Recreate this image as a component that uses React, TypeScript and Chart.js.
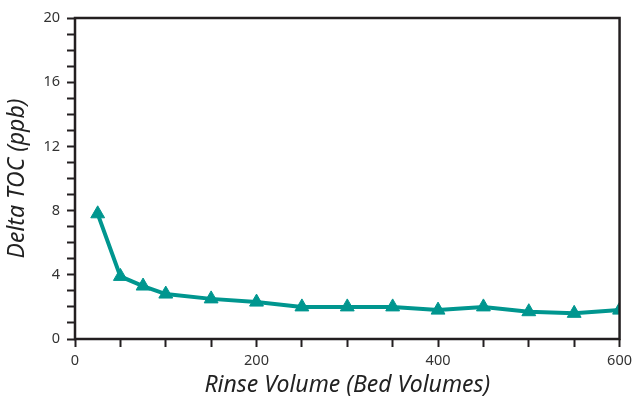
import React, { useEffect, useRef } from "react";
import { Chart, registerables } from "chart.js";

Chart.register(...registerables);

const rinseVolumes = [25, 50, 75, 100, 150, 200, 250, 300, 350, 400, 450, 500, 550, 600];
const deltaTOC = [7.8, 3.9, 3.3, 2.8, 2.5, 2.3, 2.0, 2.0, 2.0, 1.8, 2.0, 1.7, 1.6, 1.8];
const yLabelTicks = [0, 4, 8, 12, 16, 20];
const xLabelTicks = [0, 200, 400, 600];

const TEAL = "#00968f";
const DARK = "#231f20";
const FONT = "'Noto Sans', 'Open Sans', sans-serif";

const boxPlugin = {
  id: "boxBorder",
  afterDatasetsDraw(chart: any) {
    const { ctx, chartArea } = chart;
    ctx.save();
    ctx.strokeStyle = DARK;
    ctx.lineWidth = 2.5;
    ctx.strokeRect(chartArea.left, chartArea.top, chartArea.right - chartArea.left, chartArea.bottom - chartArea.top);
    ctx.restore();
  },
};

export default function App() {
  const ref = useRef<HTMLCanvasElement>(null);
  useEffect(() => {
    document.body.style.margin = "0";
    const chart = new Chart(ref.current as HTMLCanvasElement, {
      type: "line",
      data: {
        datasets: [
          {
            data: rinseVolumes.map((x, i) => ({ x, y: deltaTOC[i] })),
            borderColor: TEAL,
            backgroundColor: TEAL,
            borderWidth: 4,
            pointStyle: "triangle",
            pointRadius: 8,
            pointBorderWidth: 1,
            pointBorderColor: TEAL,
            tension: 0,
          },
        ],
      },
      options: {
        animation: false,
        responsive: false,
        maintainAspectRatio: false,
        layout: { padding: { top: 18, right: 16, left: 0, bottom: 0 } },
        plugins: { legend: { display: false }, tooltip: { enabled: false } },
        scales: {
          x: {
            type: "linear",
            min: 0,
            max: 600,
            afterFit: (s: any) => { s.height = 58; },
            ticks: {
              stepSize: 50,
              autoSkip: false,
              maxRotation: 0,
              padding: 5,
              color: "#333",
              font: { family: FONT, size: 14.5 },
              callback: (v: any) => (xLabelTicks.includes(Number(v)) ? String(v) : ""),
            },
            grid: { drawOnChartArea: false, drawTicks: true, tickLength: 8, tickColor: DARK, tickWidth: 2 },
            border: { display: false },
            title: {
              display: true,
              text: "Rinse Volume (Bed Volumes)",
              color: "#222",
              font: { family: FONT, size: 23, style: "italic", lineHeight: 1 },
              padding: { top: 0, bottom: 0 },
            },
          },
          y: {
            min: 0,
            max: 20,
            afterFit: (s: any) => { s.width = 75; },
            ticks: {
              stepSize: 1,
              autoSkip: false,
              padding: 7,
              color: "#333",
              font: { family: FONT, size: 14.5 },
              callback: (v: any) => (yLabelTicks.includes(Number(v)) ? String(v) : ""),
            },
            grid: { drawOnChartArea: false, drawTicks: true, tickLength: 8, tickColor: DARK, tickWidth: 2 },
            border: { display: false },
            title: {
              display: true,
              text: "Delta TOC (ppb)",
              color: "#222",
              font: { family: FONT, size: 23, style: "italic", lineHeight: 1 },
              padding: { top: 6, bottom: 0 },
            },
          },
        },
      },
      plugins: [boxPlugin],
    } as any);
    return () => chart.destroy();
  }, []);
  return (
    <div style={{ width: 637, height: 397, background: "#fff" }}>
      <canvas ref={ref} width={637} height={397} />
    </div>
  );
}
